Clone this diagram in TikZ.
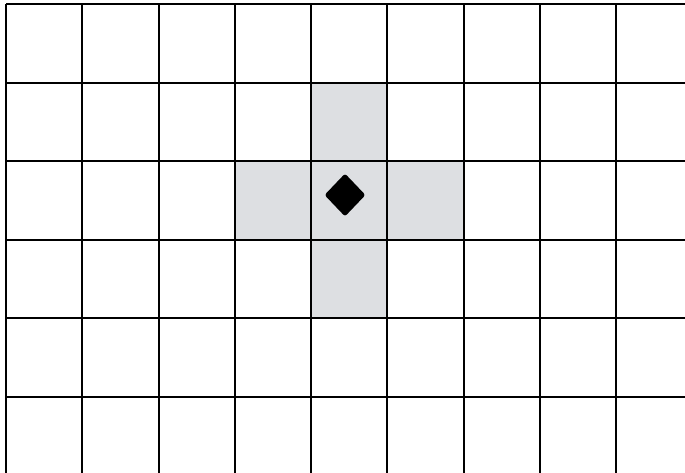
\documentclass[tikz,border=0pt]{standalone}
\usetikzlibrary{shapes.geometric}
\definecolor{cellgray}{RGB}{221,223,226}
\begin{document}
\begin{tikzpicture}[x=1pt,y=-1pt,
  gridline/.style={black,line width=2pt},
  graycell/.style={fill=cellgray,draw=none},
  marker/.style={diamond,fill=black,draw=none,inner sep=0pt,minimum width=41pt,minimum height=43pt,rounded corners=2.5pt}]
\useasboundingbox (0,0) rectangle (685,472);
\clip (0,0) rectangle (685,472);
\def\cw{76.25}
\def\rh{78.6}
\def\xo{6}
\def\yo{4}
% gray cells
\foreach \c/\r in {4/1,3/2,4/2,5/2,4/3}
  \fill[graycell] ({\xo+\c*\cw},{\yo+\r*\rh}) rectangle ({\xo+(\c+1)*\cw},{\yo+(\r+1)*\rh});
% grid
\foreach \i in {0,...,9}
  \draw[gridline] ({\xo+\i*\cw},\yo) -- ({\xo+\i*\cw},480);
\foreach \j in {0,...,6}
  \draw[gridline] (\xo,{\yo+\j*\rh}) -- (690,{\yo+\j*\rh});
% marker
\node[marker] (piece) at (345,195) {};
\end{tikzpicture}
\end{document}
